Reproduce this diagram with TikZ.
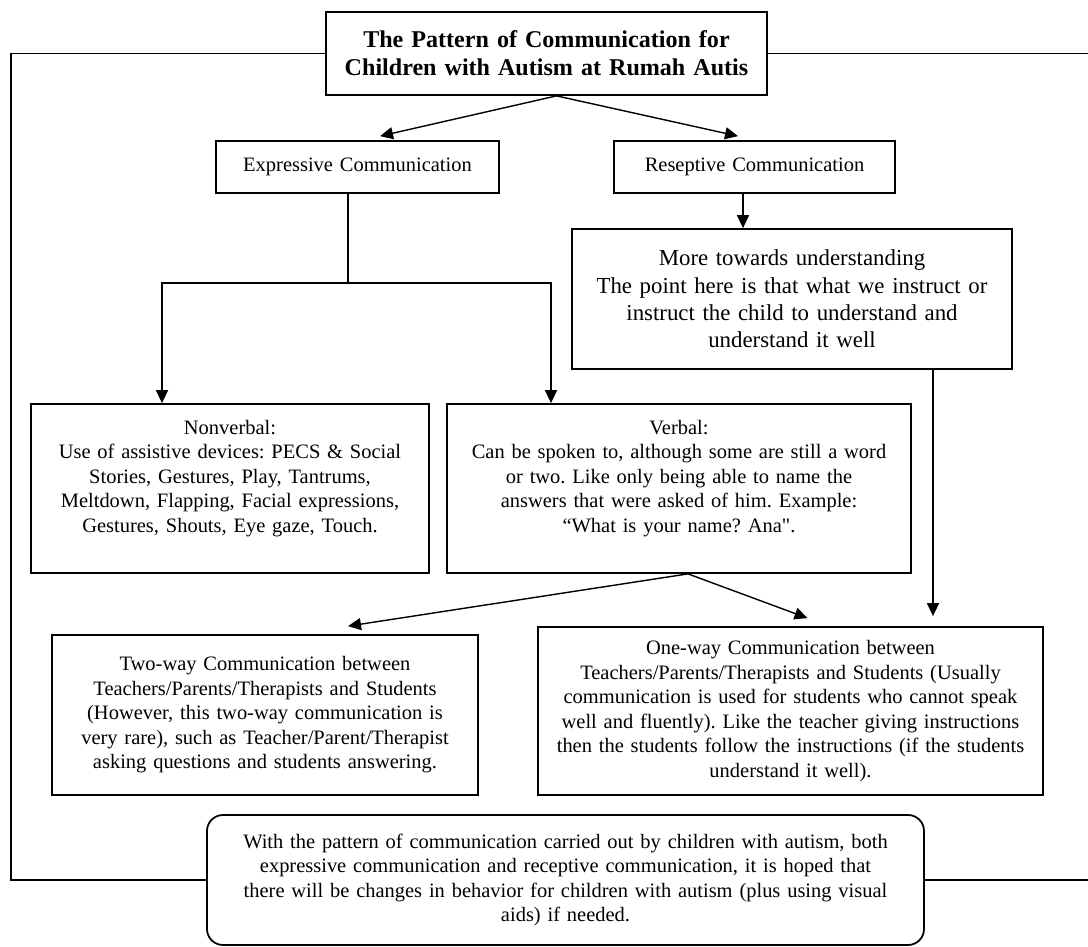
\documentclass[tikz,border=0pt]{standalone}
\usepackage{fontspec}
\setmainfont{Liberation Serif}
\usepackage{tikz}
\usetikzlibrary{arrows.meta}
\usetikzlibrary{calc}
\frenchspacing

\begin{document}
\begin{tikzpicture}[
        box/.style={draw,line width=1pt,align=center,inner xsep=0pt,inner ysep=3pt,font=\fontsize{11.65}{13.94}\selectfont},
        arr/.style={line width=0.8pt,-{Triangle[length=0.26cm,width=0.24cm]}}]
            \useasboundingbox (0,0) rectangle (21.76,-18.94);

            \node[box,text width=8.82cm,minimum height=1.66cm,font=\fontsize{13.7}{16}\selectfont\bfseries] (title) at (10.93,-1.07) {The Pattern of Communication for\\Children with Autism at Rumah Autis};

            \node[box,text width=5.66cm,minimum height=1.04cm] (expr) at (7.15,-3.34) {Expressive Communication};
            \node[box,text width=5.62cm,minimum height=1.04cm] (resep) at (15.09,-3.34) {Reseptive Communication};

            \node[box,text width=8.8cm,minimum height=2.8cm,font=\fontsize{13}{15.6}\selectfont] (more) at (15.84,-5.98) {More towards understanding\\The point here is that what we instruct or\\instruct the child to understand and\\understand it well};

            \node[box,text width=7.96cm,minimum height=3.38cm] (nonv) at (4.6,-9.77) {Nonverbal:\\Use of assistive devices: PECS \& Social\\Stories, Gestures, Play, Tantrums,\\Meltdown, Flapping, Facial expressions,\\Gestures, Shouts, Eye gaze, Touch.\\~};
            \node[box,text width=9.28cm,minimum height=3.38cm] (verb) at (13.58,-9.77) {Verbal:\\Can be spoken to, although some are still a word\\or two. Like only being able to name the\\answers that were asked of him. Example:\\``What is your name? Ana\textquotedbl.\\~};

            \node[box,text width=8.52cm,minimum height=3.2cm] (twow) at (5.3,-14.3) {Two-way Communication between\\Teachers/Parents/Therapists and Students\\(However, this two-way communication is\\very rare), such as Teacher/Parent/Therapist\\asking questions and students answering.};
            \node[box,text width=10.1cm,minimum height=3.36cm] (onew) at (15.81,-14.22) {One-way Communication between\\Teachers/Parents/Therapists and Students (Usually\\communication is used for students who cannot speak\\well and fluently). Like the teacher giving instructions\\then the students follow the instructions (if the students\\understand it well).};

            \node[box,rounded corners=0.32cm,text width=14.34cm,minimum height=2.6cm] (concl) at (11.31,-17.6) {With the pattern of communication carried out by children with autism, both\\expressive communication and receptive communication, it is hoped that\\there will be changes in behavior for children with autism (plus using visual\\aids) if needed.};

            \coordinate (frameL) at (0.22,-1.14);
            \coordinate (frameR) at (21.9,-1.14);
            \draw[line width=1pt] (title.west) -- (title.west -| frameL) -- (concl.west -| frameL) -- (concl.west);
            \draw[line width=1pt] (title.east) -- (title.east -| frameR);
            \draw[line width=1pt] (concl.east) -- (concl.east -| frameR);

            \draw[arr] ([xshift=0.2cm]title.south) -- ([xshift=0.45cm,yshift=0.08cm]expr.north);
            \draw[arr] ([xshift=0.2cm]title.south) -- ([xshift=-0.33cm,yshift=0.08cm]resep.north);

            \coordinate (split) at (6.96,-5.66);
            \draw[line width=0.8pt] (expr.south -| split) -- (split);
            \draw[arr] (split) -| ([xshift=-1.36cm]nonv.north);
            \draw[arr] (split) -| ([xshift=-2.56cm]verb.north);

            \draw[arr] ([xshift=-0.23cm]resep.south) -- ([xshift=-0.23cm]resep.south |- more.north);
            \draw[arr,shorten >=0.2cm] ([xshift=2.82cm]more.south) -- ([xshift=2.82cm]more.south |- onew.north);

            \draw[arr] ([xshift=0.18cm]verb.south) -- ([xshift=1.66cm,yshift=0.16cm]twow.north);
            \draw[arr] ([xshift=0.18cm]verb.south) -- ([xshift=0.34cm,yshift=0.16cm]onew.north);
        \end{tikzpicture}
\end{document}
